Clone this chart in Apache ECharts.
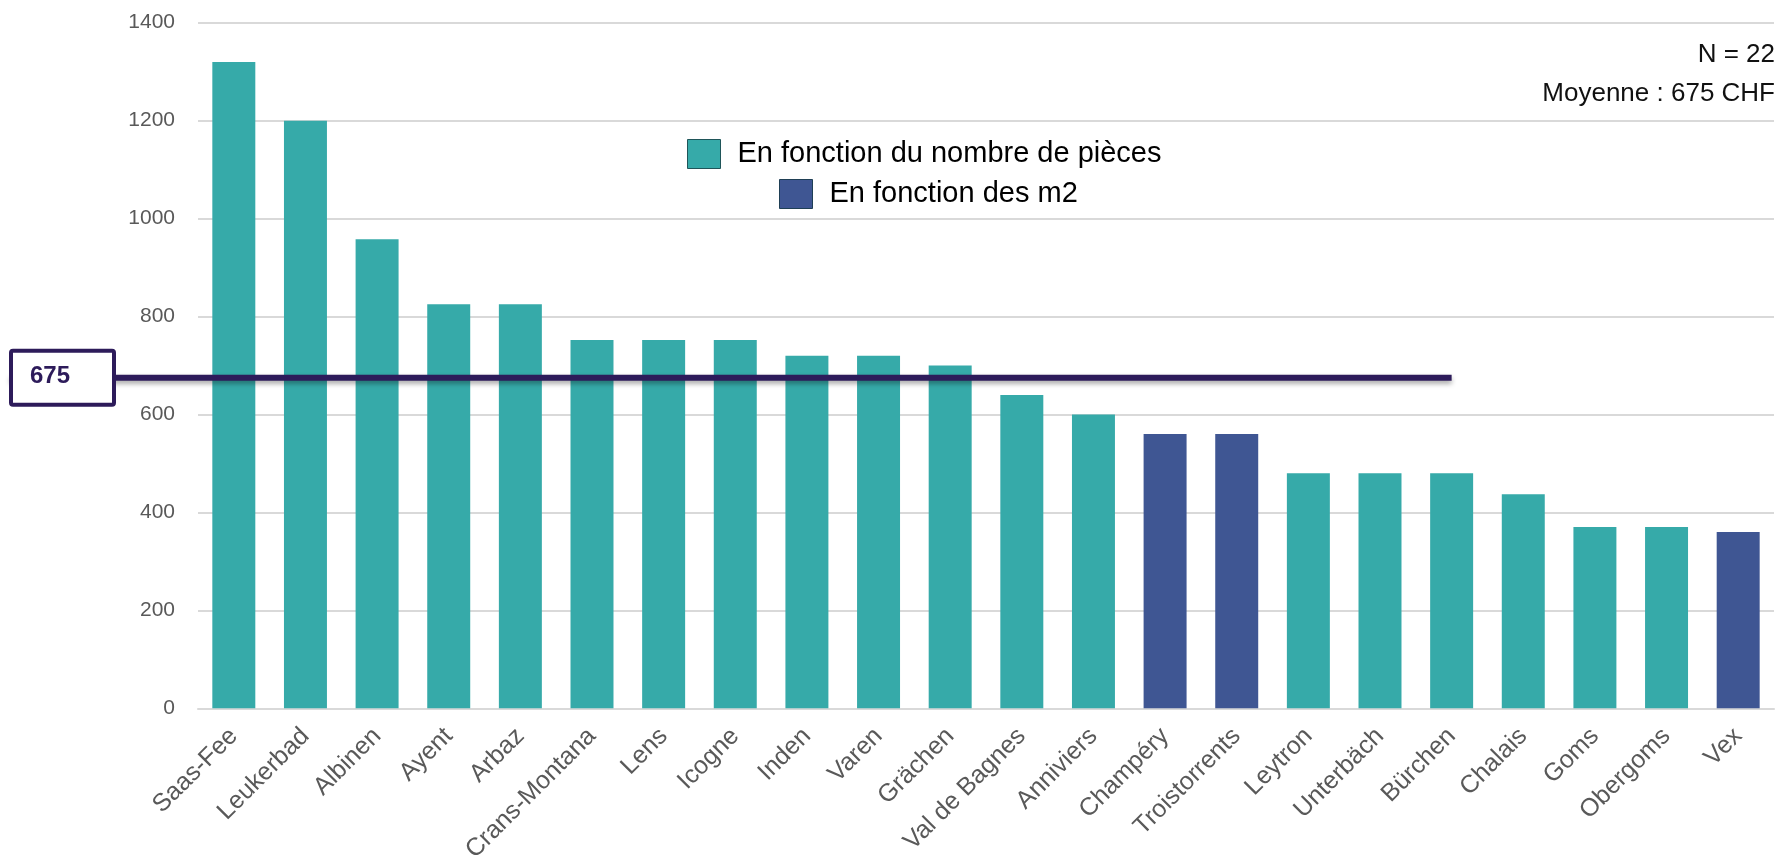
<!DOCTYPE html>
<html>
<head>
<meta charset="utf-8">
<script src="https://cdn.jsdelivr.net/npm/echarts@6/dist/echarts.min.js"></script>
<style>
html,body{margin:0;padding:0;background:#fff;}
#c{width:1781px;height:860px;}
</style>
</head>
<body>
<div id="c"></div>
<script>
const categories = ['Saas-Fee','Leukerbad','Albinen','Ayent','Arbaz','Crans-Montana','Lens','Icogne','Inden','Varen','Grächen','Val de Bagnes','Anniviers','Champéry','Troistorrents','Leytron','Unterbäch','Bürchen','Chalais','Goms','Obergoms','Vex'];
const valuesPieces = [1320,1200,958,825,825,752,752,752,720,720,700,640,600,'-','-',480,480,480,437,370,370,'-'];
const valuesM2 = ['-','-','-','-','-','-','-','-','-','-','-','-','-',560,560,'-','-','-','-','-','-',360];
const seriesNames = ['En fonction du nombre de pièces','En fonction des m2'];
const meanValue = 675;
const meanEndCategory = 'Bürchen';
const yTicks = {min:0, max:1400, interval:200};
const noteLines = ['N = 22','Moyenne : 675 CHF'];

const TEAL = '#36aaa9';
const BLUE = '#3f5693';
const PURPLE = '#2d1b5a';
const FONT = 'Liberation Sans';

const chart = echarts.init(document.getElementById('c'), null, {renderer:'canvas'});
const option = {
  animation:false,
  textStyle:{fontFamily:FONT},
  grid:{left:198,right:7,top:22.7,bottom:151.7,containLabel:false,outerBoundsMode:'none'},
  legend:[
    {data:[seriesNames[0]], left:682, top:134, itemWidth:33, itemHeight:29, icon:'rect',
     itemStyle:{borderColor:'#1f5559',borderWidth:1},
     textStyle:{fontSize:29,color:'#000',fontFamily:FONT,padding:[0,0,0,12]}},
    {data:[seriesNames[1]], left:774, top:174, itemWidth:33, itemHeight:29, icon:'rect',
     itemStyle:{borderColor:'#1f3f55',borderWidth:1},
     textStyle:{fontSize:29,color:'#000',fontFamily:FONT,padding:[0,0,0,12]}}
  ],
  xAxis:{
    type:'category', data:categories,
    axisTick:{show:false},
    axisLine:{lineStyle:{color:'#d9d9d9',width:2}},
    axisLabel:{interval:0,rotate:45,fontSize:25,color:'#595959',margin:24,fontFamily:FONT}
  },
  yAxis:{
    type:'value', min:yTicks.min, max:yTicks.max, interval:yTicks.interval,
    axisLine:{show:false}, axisTick:{show:false},
    splitLine:{lineStyle:{color:'#d9d9d9',width:2}},
    axisLabel:{fontSize:21,color:'#595959',margin:23,fontFamily:FONT,formatter:v=>String(v)}
  },
  series:[
    {name:seriesNames[0], type:'bar', stack:'s', data:valuesPieces, barCategoryGap:'40%', itemStyle:{color:TEAL}},
    {name:seriesNames[1], type:'bar', stack:'s', data:valuesM2, barCategoryGap:'40%', itemStyle:{color:BLUE}}
  ]
};
chart.setOption(option);

const yMean = chart.convertToPixel({yAxisIndex:0}, meanValue);
const xEnd = chart.convertToPixel({xAxisIndex:0}, meanEndCategory);
chart.setOption({
  graphic:[
    {type:'line', z:100, shape:{x1:10,y1:yMean,x2:xEnd,y2:yMean},
     style:{stroke:PURPLE,lineWidth:6,shadowBlur:5,shadowOffsetY:3,shadowColor:'rgba(0,0,0,0.35)'}},
    {type:'rect', z:101, shape:{x:11,y:yMean-27,width:103,height:54,r:2},
     style:{fill:'#fff',stroke:PURPLE,lineWidth:4}},
    {type:'text', z:102, left:30, top:yMean-13,
     style:{text:String(meanValue),fill:PURPLE,font:'bold 24px '+FONT}},
    {type:'text', right:6, top:42, style:{text:noteLines[0],fill:'#111',font:'26px '+FONT,align:'right'}},
    {type:'text', right:6, top:81, style:{text:noteLines[1],fill:'#111',font:'26px '+FONT,align:'right'}}
  ]
});
</script>
</body>
</html>
